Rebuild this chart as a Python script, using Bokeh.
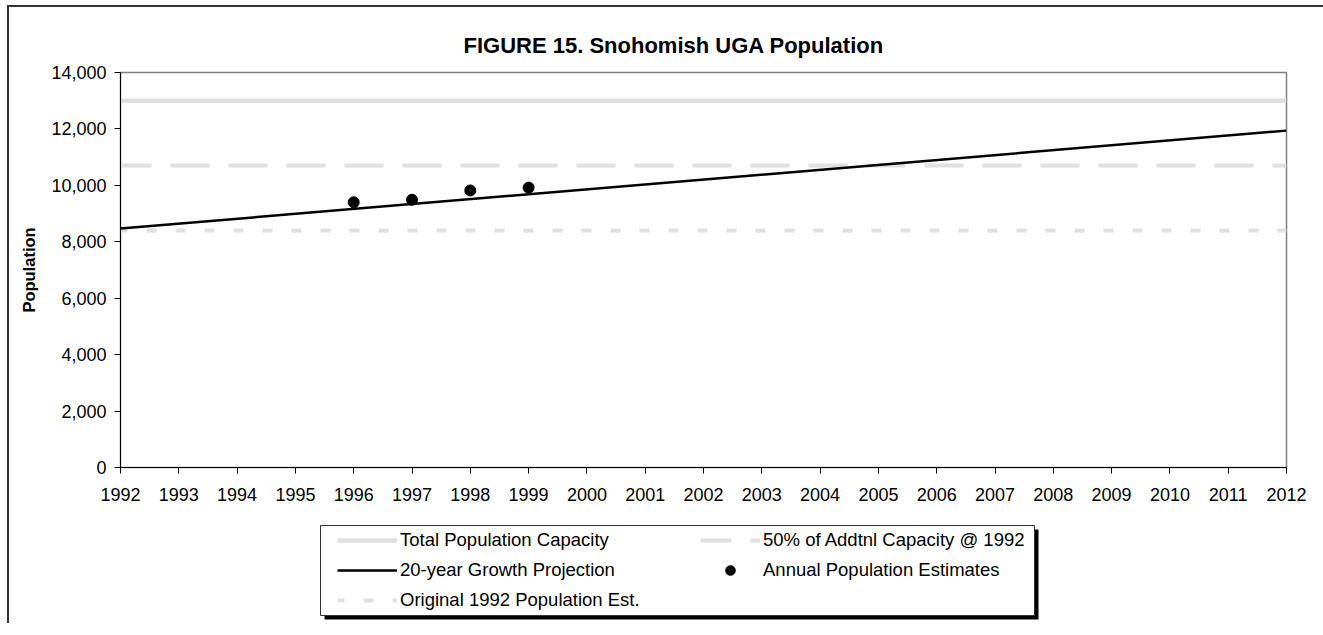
from bokeh.plotting import figure
from bokeh.layouts import column
from bokeh.models import (Legend, LegendItem, FixedTicker, NumeralTickFormatter, Range1d,
                          GlobalInlineStyleSheet)
from bokeh.embed import file_html
from bokeh.resources import INLINE

# ---- data ----
span_years = [1992, 2012]
total_capacity = [13000, 13000]
half_addtl_capacity = [10700, 10700]
orig_1992_pop = [8400, 8400]
projection_years = [1992, 2012]
projection_values = [8470, 11940]
estimate_years = [1996, 1997, 1998, 1999]
estimate_values = [9400, 9490, 9820, 9920]
x_ticks = list(range(1992, 2013))
y_ticks = list(range(0, 14001, 2000))
labels = ["Total Population Capacity", "50% of Addtnl Capacity @ 1992",
          "20-year Growth Projection", "Annual Population Estimates",
          "Original 1992 Population Est."]

FONT = "Liberation Sans"
GRAY = "#e0e0e0"
BORDER = "2px solid #333333"
W = 1322
H1 = 508
H2 = 110

# styles shared by chart series and their legend samples
S_TOTAL = dict(line_color=GRAY, line_width=4.5)
S_HALF = dict(line_color=GRAY, line_width=4, line_dash="39 19", line_dash_offset=8)
S_ORIG = dict(line_color=GRAY, line_width=4, line_dash="10 19", line_dash_offset=3)
S_PROJ = dict(line_color="black", line_width=2.5)
S_EST = dict(size=11, color="black")

p = figure(width=W, height=H1, x_range=(1992, 2012), y_range=(0, 14000),
           output_backend="svg", toolbar_location=None,
           min_border_left=111, min_border_right=W - 111 - 1166, min_border_top=65,
           min_border_bottom=48)
p.frame_align = False
p.styles = {"border-top": BORDER, "border-left": BORDER,
            "margin-left": "7px", "margin-top": "5px"}

p.line(span_years, total_capacity, **S_TOTAL)
p.line(span_years, half_addtl_capacity, **S_HALF)
p.line(span_years, orig_1992_pop, **S_ORIG)
p.line(projection_years, projection_values, **S_PROJ)
p.scatter(estimate_years, estimate_values, **S_EST)

# title
p.title.text = "FIGURE 15. Snohomish UGA Population"
p.title.align = "left"
p.title.text_font = FONT
p.title.text_font_size = "22px"
p.title.text_font_style = "bold"
p.title.text_color = "black"
p.title.offset = 343
p.title.standoff = 29

# axes
p.xaxis.ticker = FixedTicker(ticks=x_ticks)
p.yaxis.ticker = FixedTicker(ticks=y_ticks)
p.yaxis.formatter = NumeralTickFormatter(format="0,0")
for ax in (p.xaxis, p.yaxis):
    ax.major_tick_out = 6
    ax.major_tick_in = 0
    ax.minor_tick_line_color = None
    ax.axis_line_color = "black"
    ax.major_tick_line_color = "black"
    ax.major_label_text_font = FONT
    ax.major_label_text_font_size = "18px"
    ax.major_label_text_color = "black"
p.yaxis.major_label_standoff = 8
p.xaxis.major_label_standoff = 14
p.yaxis.axis_label = "Population"
p.yaxis.axis_label_text_font = FONT
p.yaxis.axis_label_text_font_size = "16.5px"
p.yaxis.axis_label_text_font_style = "bold"
p.yaxis.axis_label_text_color = "black"
p.yaxis.axis_label_standoff = 10
p.grid.visible = False
p.outline_line_color = "#808080"
p.outline_line_width = 1.5

# ---- legend strip (pixel-unit canvas below the chart) ----
p2 = figure(width=W, height=H2, x_range=Range1d(0, W), y_range=Range1d(0, H2),
            output_backend="svg", toolbar_location=None, min_border=0,
            x_axis_location=None, y_axis_location=None)
p2.frame_align = False
p2.styles = {"border-left": BORDER, "margin-left": "7px"}
p2.grid.visible = False
p2.outline_line_color = None

# legend frame with drop shadow (strip y runs 0 at bottom .. H2 at top)
p2.quad(left=[315], right=[1029], top=[94], bottom=[4], fill_color="black", line_color=None)
p2.quad(left=[311], right=[1025], top=[98], bottom=[8], fill_color="white",
        line_color="#333333", line_width=1)

# legend sample renderers (same series, fall outside this strip's ranges)
d_total = p2.line(span_years, total_capacity, **S_TOTAL)
d_half = p2.line(span_years, half_addtl_capacity, **S_HALF)
d_orig = p2.line(span_years, orig_1992_pop, **S_ORIG)
d_proj = p2.line(projection_years, projection_values, **S_PROJ)
d_est = p2.scatter(estimate_years, estimate_values, **S_EST)

common = dict(orientation="vertical", glyph_width=60, glyph_height=24, label_height=24,
              label_standoff=3, spacing=6, padding=0, margin=0,
              label_text_font=FONT, label_text_font_size="18.5px", label_text_color="black",
              border_line_color=None, background_fill_alpha=0)
leg1 = Legend(items=[LegendItem(label=labels[0], renderers=[d_total]),
                     LegendItem(label=labels[2], renderers=[d_proj]),
                     LegendItem(label=labels[4], renderers=[d_orig])],
              location=(328, 11), **common)
leg2 = Legend(items=[LegendItem(label=labels[1], renderers=[d_half]),
                     LegendItem(label=labels[3], renderers=[d_est])],
              location=(691, 41), **common)
p2.add_layout(leg1, "center")
p2.add_layout(leg2, "center")

layout = column(p, p2, spacing=0,
                stylesheets=[GlobalInlineStyleSheet(css="html, body { overflow: hidden; }")])

open("out.html", "w").write(file_html(layout, INLINE))
